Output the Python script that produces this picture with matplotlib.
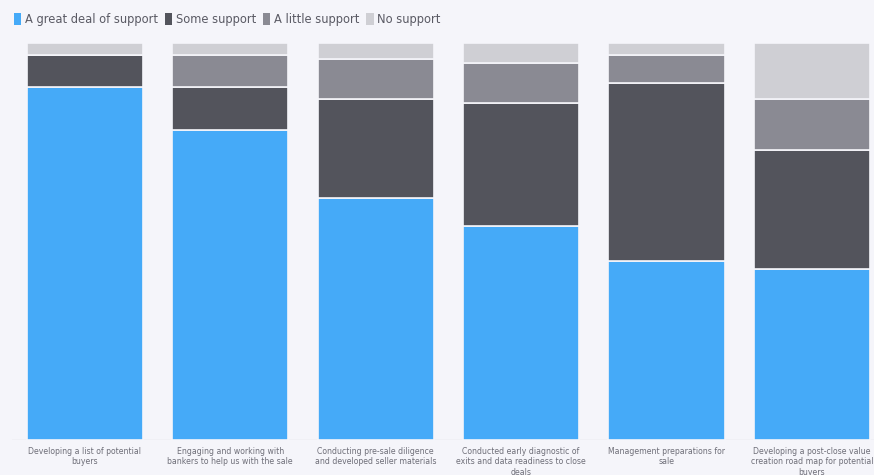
import matplotlib.pyplot as plt
from matplotlib.patches import Patch
import numpy as np

categories = [
    "Developing a list of potential\nbuyers",
    "Engaging and working with\nbankers to help us with the sale",
    "Conducting pre-sale diligence\nand developed seller materials",
    "Conducted early diagnostic of\nexits and data readiness to close\ndeals",
    "Management preparations for\nsale",
    "Developing a post-close value\ncreation road map for potential\nbuyers",
]
great_deal = [89, 78, 61, 54, 45, 43]
some = [8, 11, 25, 31, 45, 30]
a_little = [0, 8, 10, 10, 7, 13]
no_support = [3, 3, 4, 5, 3, 14]

series = [
    ("A great deal of support", great_deal, "#45AAF8"),
    ("Some support", some, "#53545C"),
    ("A little support", a_little, "#8A8A93"),
    ("No support", no_support, "#CFCFD4"),
]

bg = "#F5F5FA"
fig = plt.figure(figsize=(8.74, 4.75), dpi=100, facecolor=bg)
ax = fig.add_axes([0.014, 0.0737, 0.998, 0.8358], facecolor=bg)

x = np.arange(len(categories))
bottom = np.zeros(len(categories))
for name, vals, color in series:
    ax.bar(x, vals, width=0.8, bottom=bottom, color=color, edgecolor=bg,
           linewidth=1.2, label=name)
    bottom += np.array(vals)

ax.set_xlim(-0.5, len(categories) - 0.5)
ax.set_ylim(0, 100)
for s in ax.spines.values():
    s.set_visible(False)
ax.axhline(0, color="#DCDCE2", linewidth=1.0, zorder=0)
ax.set_yticks([])
ax.set_xticks(x)
ax.set_xticklabels(categories, fontsize=5.6, color="#6E6E78", linespacing=1.2)
ax.tick_params(axis="x", length=0, pad=5)

handles = [Patch(facecolor=c, edgecolor="none") for _, _, c in series]
fig.legend(handles, [n for n, _, _ in series], loc="upper left",
           bbox_to_anchor=(0.004, 0.995), ncol=4, frameon=False,
           fontsize=8.3, handlelength=0.65, handleheight=1.2, handletextpad=0.3,
           columnspacing=0.6, labelcolor="#5A5A64")

fig.savefig("out.png", dpi=100, facecolor=bg)
